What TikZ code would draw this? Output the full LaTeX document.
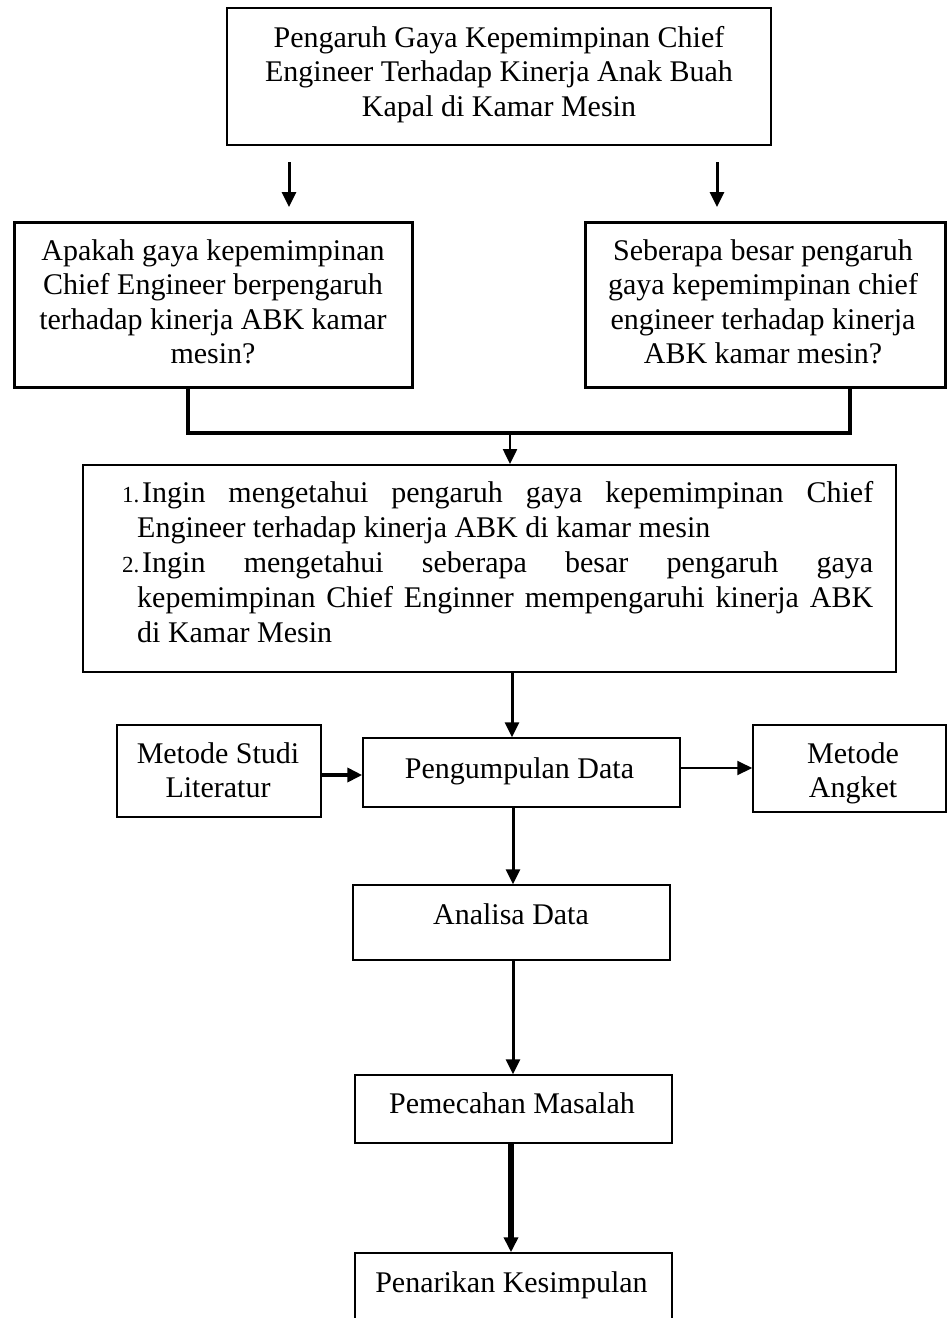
\documentclass[tikz,border=0pt]{standalone}
\usepackage{fontspec}
\setmainfont{Liberation Serif}
\usetikzlibrary{arrows.meta,calc}
\begin{document}
\begin{tikzpicture}[x=1pt,y=-1pt,
  box/.style={draw, rectangle, inner sep=0pt, line width=1.5pt},
  txt/.style={inner sep=0pt, anchor=base, font=\fontsize{30}{34.5}\selectfont},
  arr/.style={-{Triangle[length=15pt,width=14pt]}, line width=3pt},
  conn/.style={line width=4pt, line join=miter}]
\path[use as bounding box, fill=white] (0,0) rectangle (948,1318);

% boxes
\node[box, minimum width=544pt, minimum height=137pt] (top) at (499,76.5) {};
\node[box, line width=3pt, minimum width=398pt, minimum height=165pt] (qL) at (213,304.5) {};
\node[box, line width=3pt, minimum width=360pt, minimum height=165pt] (qR) at (765,304.5) {};
\node[box, line width=2pt, minimum width=813pt, minimum height=207pt] (mid) at (489.5,568.5) {};
\node[box, line width=1.2pt, minimum width=204pt, minimum height=92pt] (lit) at (219,771) {};
\node[box, minimum width=317pt, minimum height=69pt] (peng) at (521.5,772.5) {};
\node[box, minimum width=193pt, minimum height=87pt] (ang) at (849.5,768.5) {};
\node[box, minimum width=317pt, minimum height=75pt] (anal) at (511.5,922.5) {};
\node[box, minimum width=317pt, minimum height=68pt] (pem) at (513.5,1109) {};
\node[box, minimum width=317pt, minimum height=100pt] (pen) at (513.5,1303) {};

% texts
\node[txt] (topt) at (499,47) {\begin{tabular}[t]{@{}c@{}}Pengaruh Gaya Kepemimpinan Chief\\ Engineer Terhadap Kinerja Anak Buah\\ Kapal di Kamar Mesin\end{tabular}};
\node[txt] (qLt) at (213,260) {\begin{tabular}[t]{@{}c@{}}Apakah gaya kepemimpinan\\ Chief Engineer berpengaruh\\ terhadap kinerja ABK kamar\\ mesin?\end{tabular}};
\node[txt] (qRt) at (763,260) {\begin{tabular}[t]{@{}c@{}}Seberapa besar pengaruh\\ gaya kepemimpinan chief\\ engineer terhadap kinerja\\ ABK kamar mesin?\end{tabular}};
\node[txt, anchor=base west, font=\fontsize{30}{35.2}\selectfont] (midt) at (122,502) {\parbox[t]{751pt}{\tolerance=10000\hbadness=10000\setlength{\parindent}{0pt}%
\hangindent=15pt\hangafter=1 \makebox[20pt][l]{\fontsize{23}{23}\selectfont 1.}Ingin mengetahui pengaruh gaya kepemimpinan Chief\linebreak Engineer terhadap kinerja ABK di kamar mesin\par
\hangindent=15pt\hangafter=1 \makebox[20pt][l]{\fontsize{23}{23}\selectfont 2.}Ingin mengetahui seberapa besar pengaruh gaya\linebreak kepemimpinan Chief Enginner mempengaruhi kinerja ABK\linebreak di Kamar Mesin}};
\node[txt] (litt) at (218,763) {\begin{tabular}[t]{@{}c@{}}Metode Studi\\ Literatur\end{tabular}};
\node[txt] (pengt) at (519.5,778) {Pengumpulan Data};
\node[txt] (angt) at (853,763) {\begin{tabular}[t]{@{}c@{}}Metode\\ Angket\end{tabular}};
\node[txt] (analt) at (511,924) {Analisa Data};
\node[txt] (pemt) at (512,1113) {Pemecahan Masalah};
\node[txt] (pent) at (511.5,1292) {Penarikan Kesimpulan};

% connector coordinates
\coordinate (aL1) at (289,162); \coordinate (aL2) at (289,207);
\coordinate (aR1) at (717,162); \coordinate (aR2) at (717,207);
\coordinate (jL) at (188,433); \coordinate (jR) at (850,433); \coordinate (jM) at (510,433);
\coordinate (x1) at (512,0); \coordinate (x2) at (513,0); \coordinate (x3) at (511,0);
\coordinate (y1) at (0,775); \coordinate (y2) at (0,768);

% connectors
\draw[arr] (aL1) -- (aL2);
\draw[arr] (aR1) -- (aR2);
\draw[conn] (qL.south -| jL) -- (jL) -- (jR) -- (qR.south -| jR);
\draw[arr, line width=2.5pt] (jM) -- (mid.north -| jM);
\draw[arr] (mid.south -| x1) -- (peng.north -| x1);
\draw[arr, line width=4pt] (lit.east |- y1) -- (peng.west |- y1);
\draw[arr, line width=2pt] (peng.east |- y2) -- (ang.west |- y2);
\draw[arr] (peng.south -| x2) -- (anal.north -| x2);
\draw[arr] (anal.south -| x2) -- (pem.north -| x2);
\draw[arr, line width=5.5pt] (pem.south -| x3) -- (pen.north -| x3);
\end{tikzpicture}
\end{document}
